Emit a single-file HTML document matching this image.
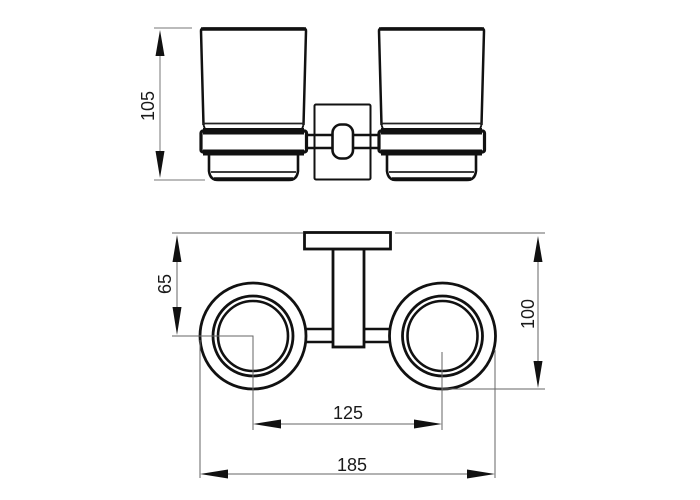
<!DOCTYPE html>
<html>
<head>
<meta charset="utf-8">
<style>
html,body{margin:0;padding:0;background:#fff;width:700px;height:500px;overflow:hidden}
svg{display:block;filter:blur(0.35px)}
text{font-family:"Liberation Sans",sans-serif;font-size:18px;fill:#1a1a1a}
</style>
</head>
<body>
<svg width="700" height="500" viewBox="0 0 700 500" xmlns="http://www.w3.org/2000/svg">
<defs>
<g id="cup">
  <!-- glass -->
  <path d="M203.500 125 L201 31 Q201 28.500 203.500 28.500 L303.500 28.500 Q306 28.500 306 31 L303.500 125" fill="#fff" stroke="#111" stroke-width="2.500"/>
  <path d="M201 29 H306" stroke="#111" stroke-width="3.500" fill="none"/>
  <path d="M203 123.500 H304" stroke="#222" stroke-width="1.800" fill="none"/>
  <path d="M203.500 125 L205 129 M303.500 125 L302 129" stroke="#111" stroke-width="1.800" fill="none"/>
  <!-- lower cup -->
  <path d="M209 154 V171 Q210 180 218 180 H289 Q297 180 298 171 V154" fill="#fff" stroke="#111" stroke-width="2.600"/>
  <path d="M211 172 H296" stroke="#222" stroke-width="1.800" fill="none"/>
  <path d="M214 179 H293" stroke="#111" stroke-width="3.500" fill="none"/>
  <!-- band -->
  <rect x="201" y="131" width="105.500" height="21" rx="2" fill="#fff" stroke="#111" stroke-width="3.200"/>
  <rect x="203" y="128" width="101" height="6.500" fill="#111"/>
  <rect x="203" y="149.500" width="101" height="6" fill="#111"/>
</g>
<g id="rings">
  <circle r="53" fill="#fff" stroke="#111" stroke-width="2.800"/>
  <circle r="40" fill="#fff" stroke="#111" stroke-width="2.800"/>
  <circle r="35" fill="#fff" stroke="#111" stroke-width="2.600"/>
</g>
</defs>

<!-- top view: mounting plate -->
<rect x="314.500" y="104.500" width="56" height="75" rx="1.500" fill="#fff" stroke="#111" stroke-width="2"/>
<path d="M306 135 H378 M306 148 H378" stroke="#111" stroke-width="2.400" fill="none"/>
<rect x="332.500" y="124.500" width="20.500" height="34" rx="8.500" fill="#fff" stroke="#111" stroke-width="2.600"/>

<use href="#cup"/>
<use href="#cup" x="178"/>

<!-- dimension 105 -->
<g stroke="#777" stroke-width="1" fill="none">
  <path d="M154 28 H192 M154 180 H205 M160 50 V160"/>
</g>
<path d="M160 30 L155.500 56 H164.500 Z M160 178 L155.500 151 H164.500 Z" fill="#111"/>
<text transform="translate(154 106) rotate(-90)" text-anchor="middle">105</text>

<!-- lower view -->
<path d="M253 329 H442 M253 342 H442" stroke="#111" stroke-width="2.400" fill="none"/>
<rect x="333" y="249" width="31" height="98" fill="#fff" stroke="#111" stroke-width="2.800"/>
<rect x="304.500" y="232.500" width="86" height="16.500" fill="#fff" stroke="#111" stroke-width="2.800"/>
<use href="#rings" x="253" y="336"/>
<use href="#rings" x="442.500" y="336"/>

<!-- dimension lines lower -->
<g stroke="#666" stroke-width="1" fill="none">
  <path d="M172 233 H303 M395 233 H545 M172 336 H253 V430 M200 340 V478 M442 352 V430 M495 350 V478 M442 389 H545"/>
  <path d="M177 255 V315 M538 255 V370 M275 424 H420 M222 474 H473"/>
</g>
<path d="M177 235 L172.500 262 H181.500 Z M177 335 L172.500 307 H181.500 Z" fill="#111"/>
<path d="M538 236 L533.500 262 H542.500 Z M538 388 L533.500 361 H542.500 Z" fill="#111"/>
<path d="M253 424 L281 419.500 V428.500 Z M442 424 L414 419.500 V428.500 Z" fill="#111"/>
<path d="M200 474 L228 469.500 V478.500 Z M495 474 L467 469.500 V478.500 Z" fill="#111"/>

<text transform="translate(171 284) rotate(-90)" text-anchor="middle">65</text>
<text transform="translate(534 314) rotate(-90)" text-anchor="middle">100</text>
<text x="348" y="419" text-anchor="middle">125</text>
<text x="352" y="471" text-anchor="middle">185</text>
</svg>
</body>
</html>
